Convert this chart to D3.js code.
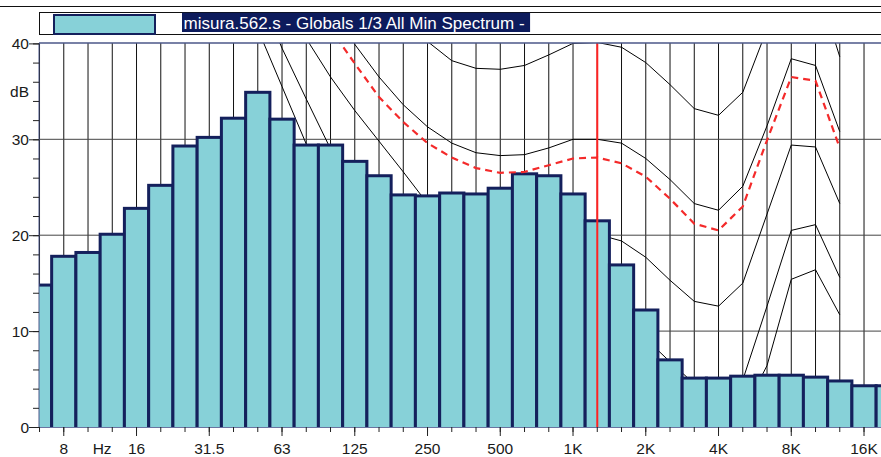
<!DOCTYPE html>
<html>
<head>
<meta charset="utf-8">
<script src="https://cdn.jsdelivr.net/npm/d3@7"></script>
<style>
  body { margin: 0; background: #fff; }
  svg { display: block; font-family: "Liberation Sans", Arial, sans-serif; }
</style>
</head>
<body>
<svg width="881" height="457"></svg>
<script>
// 1/3 octave bands, 6.3 Hz .. 20 kHz
var bands = ["6.3","8","10","12.5","16","20","25","31.5","40","50","63","80","100","125","160","200","250","315","400","500","630","800","1K","1.25K","1.6K","2K","2.5K","3.15K","4K","5K","6.3K","8K","10K","12.5K","16K","20K"];
var levels = [14.8,17.8,18.2,20.1,22.8,25.2,29.3,30.2,32.2,34.9,32.1,29.4,29.4,27.7,26.2,24.2,24.1,24.4,24.3,24.9,26.4,26.2,24.3,21.5,16.9,12.2,7.0,5.1,5.1,5.3,5.4,5.4,5.2,4.8,4.3,4.3];
var tickLabels = ["8","16","31.5","63","125","250","500","1K","2K","4K","8K","16K"];
var yMajor = [0,10,20,30,40];

// contour curves, 40 Hz .. 12.5 kHz
var curveBands = bands.slice(8, 34);
var curve0 = [48,41.5,35.5,29.5,25,21,17.5,14.5,12,10,8.5,7.5,7,7,7.5,7.5,6.5,4.5,2.5,1,0.5,1.5,6.4,15.4,16.4,11.7];
var curve10 = [52,45.5,39.5,34.2,29.0,25,21.5,18,15.3,13.2,11.8,11,10.6,10.8,11.2,11.3,10.8,9.2,6.8,4.5,3.8,4.9,12.6,20.5,21.1,15.6];
var curve20 = [null,53,47,40.5,36.5,33.0,29.8,26.6,23.3,21.5,20.4,19.8,19.5,19.6,20,20.1,19.4,17.7,15.3,13.1,12.6,15.0,22.2,29.4,29.2,23.3];
var curve30 = [null,null,null,null,46,39.9,36.5,33.6,31.3,29.6,28.6,28.3,28.4,29.1,30.0,30.0,29.6,28.0,25.8,23.3,22.6,25.1,31.4,38.4,37.7,30.8];
var curve40 = [null,null,null,null,null,null,53,46,40.2,38.2,37.4,37.3,37.7,38.8,40.0,40.1,39.6,38.0,35.7,33.2,32.5,34.9,41.5,47.4,46.7,38.6];
var curveRed = [null,null,null,46,41.5,37.9,34.4,31.8,29.6,28.1,27.0,26.5,26.6,27.3,28.0,28.1,27.5,26.1,23.8,21.2,20.5,23.0,29.9,36.5,36.1,29.1];
var cursorBand = "1.25K";

var legendText = "misura.562.s - Globals 1/3 All Min Spectrum -";

var svg = d3.select("svg");
var W = 881;
var pLeft = 39, pTop = 43, pBottom = 427;

var x = d3.scaleBand().domain(bands).range([27.4, 27.4 + bands.length * 24.25]).padding(0);
var y = d3.scaleLinear().domain([0, 40]).range([pBottom, pTop + 0.4]);
function cx(b) { return x(b) + x.bandwidth() / 2; }

var fillC = "#87d1d8", navy = "#14205c";

// legend
svg.append("line").attr("x1", 0).attr("x2", W).attr("y1", 6.5).attr("y2", 6.5)
  .attr("stroke", "#111").attr("stroke-width", 1.2);
svg.append("rect").attr("x", 39.5).attr("y", 12.5).attr("width", W).attr("height", 22)
  .attr("fill", "#fff").attr("stroke", "#111");
svg.append("rect").attr("x", 54).attr("y", 15).attr("width", 101).attr("height", 19)
  .attr("fill", fillC).attr("stroke", navy).attr("stroke-width", 2);
var lg = svg.append("g");
var lbg = lg.append("rect").attr("x", 182).attr("y", 12.7).attr("height", 19.3).attr("fill", "#0d1b5c");
var lt = lg.append("text").attr("x", 183.5).attr("y", 28.5).attr("fill", "#fff")
  .style("font-size", "17px").text(legendText);
lbg.attr("width", lt.node().getComputedTextLength() + 7);

// clip for plot area
svg.append("defs").append("clipPath").attr("id", "plot")
  .append("rect").attr("x", pLeft).attr("y", pTop).attr("width", W - pLeft).attr("height", pBottom - pTop);

var plot = svg.append("g").attr("clip-path", "url(#plot)");

// grid
plot.selectAll("line.vg").data(bands).enter().append("line")
  .attr("x1", cx).attr("x2", cx).attr("y1", pTop).attr("y2", pBottom)
  .attr("stroke", "#111").attr("stroke-width", 1);
plot.selectAll("line.hg").data([10, 20, 30]).enter().append("line")
  .attr("x1", pLeft).attr("x2", W).attr("y1", y).attr("y2", y)
  .attr("stroke", "#444").attr("stroke-width", 1);

// contour curves
var line = d3.line()
  .defined(function(d) { return d != null; })
  .x(function(d, i) { return cx(curveBands[i]); })
  .y(function(d) { return y(d); });

[curve0, curve10, curve20, curve30, curve40].forEach(function(c) {
  plot.append("path").datum(c).attr("d", line)
    .attr("fill", "none").attr("stroke", "#000").attr("stroke-width", 1);
});

// bars
plot.selectAll("rect.bar").data(levels).enter().append("rect")
  .attr("x", function(d, i) { return x(bands[i]); })
  .attr("width", x.bandwidth())
  .attr("y", function(d) { return y(d); })
  .attr("height", function(d) { return y(0) - y(d) + 4; })
  .attr("fill", fillC).attr("stroke", navy).attr("stroke-width", 3);

plot.append("path").datum(curveRed).attr("d", line)
  .attr("fill", "none").attr("stroke", "#f42a2a").attr("stroke-width", 2.2)
  .attr("stroke-dasharray", "7,5");

plot.append("line").attr("x1", cx(cursorBand)).attr("x2", cx(cursorBand))
  .attr("y1", pTop).attr("y2", pBottom).attr("stroke", "#f22").attr("stroke-width", 2);

// frame
svg.append("line").attr("x1", pLeft).attr("x2", W).attr("y1", pTop).attr("y2", pTop)
  .attr("stroke", "#4b5789").attr("stroke-width", 1.6);
svg.append("line").attr("x1", pLeft).attr("x2", pLeft).attr("y1", pTop).attr("y2", pBottom)
  .attr("stroke", "#4b5789").attr("stroke-width", 1);
svg.append("line").attr("x1", pLeft).attr("x2", W).attr("y1", pBottom + 0.5).attr("y2", pBottom + 0.5)
  .attr("stroke", "#6a74a0").attr("stroke-width", 1);

// y axis
var yMinor = svg.append("g").attr("transform", "translate(" + pLeft + ",0)")
  .call(d3.axisLeft(y).tickValues(d3.range(0, 41, 2)).tickSize(6).tickFormat(""));
yMinor.select(".domain").remove();
var yAx = svg.append("g").attr("transform", "translate(" + pLeft + ",0)")
  .call(d3.axisLeft(y).tickValues(yMajor).tickSize(10).tickPadding(0));
yAx.select(".domain").remove();
svg.selectAll(".tick line").attr("stroke", "#222");
yAx.selectAll("text").style("font-size", "15.5px").attr("fill", "#1a1a1a").attr("dy", "0.36em");
svg.append("text").attr("x", 29).attr("y", 97).attr("text-anchor", "end")
  .style("font-size", "15.5px").attr("fill", "#1a1a1a").text("dB");

// x axis
var xMinor = svg.append("g").attr("transform", "translate(0," + pBottom + ")")
  .call(d3.axisBottom(x).tickSize(5).tickFormat(""));
xMinor.select(".domain").remove();
var xAx = svg.append("g").attr("transform", "translate(0," + pBottom + ")")
  .call(d3.axisBottom(x).tickValues(tickLabels).tickSize(9).tickPadding(7));
xAx.select(".domain").remove();
svg.selectAll(".tick line").attr("stroke", "#222");
xAx.selectAll("text").style("font-size", "15.5px").attr("fill", "#1a1a1a");
svg.append("text").attr("x", (cx("10") + cx("12.5")) / 2 + 2).attr("y", 453.5).attr("text-anchor", "middle")
  .style("font-size", "15.5px").attr("fill", "#1a1a1a").text("Hz");
</script>
</body>
</html>
